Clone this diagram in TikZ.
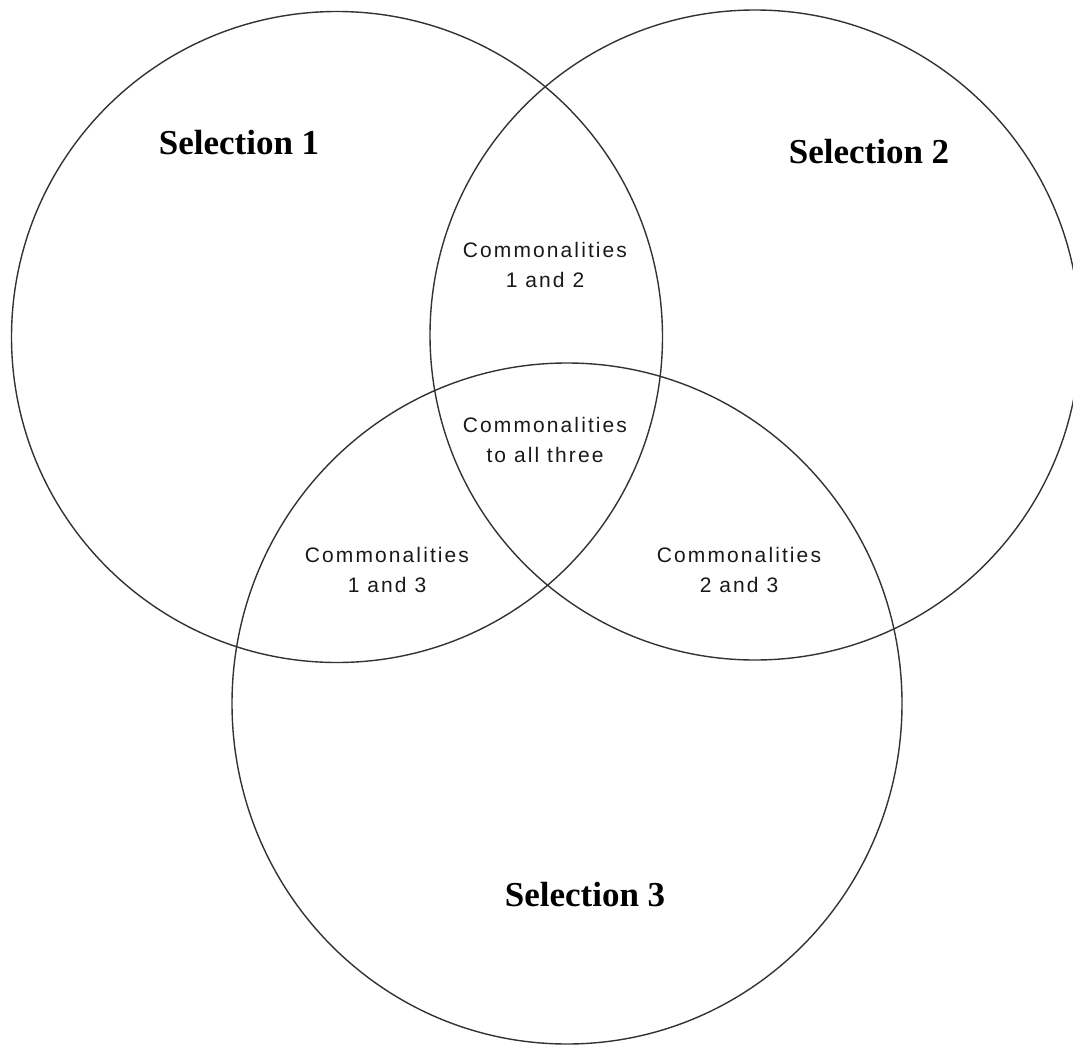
\documentclass[tikz,border=0pt]{standalone}
\usepackage{fontspec}
\setmainfont{Liberation Serif}
\newfontfamily\commonfont[LetterSpace=10]{Liberation Sans}

\tikzset{
  setline/.style={line width=1.4pt, draw=black!80},
  setname/.style={inner sep=0pt, font=\fontsize{35}{40}\selectfont\bfseries},
  common/.style={inner sep=0pt, align=center, text=black!90,
    font=\commonfont\fontsize{21}{30}\selectfont}
}

\begin{document}
\begin{tikzpicture}[x=1pt, y=-1pt]
			\useasboundingbox (0,0) rectangle (1073,1046);
			\clip (0,0) rectangle (1073,1046);
			% the three selections
			\draw[setline] (337,337) circle (325.5);
			\draw[setline] (755,335) circle (325);
			\draw[setline] (567,703.5) ellipse [x radius=335, y radius=340.5];
			\node[setname](s1) at (239,143){Selection 1};
			\node[setname](s2) at (869,152){Selection 2};
			\node[setname](s3) at (585,895){Selection 3};
			% overlaps
			\node[common](c12) at (545,265){Commonalities\\1 and 2};
			\node[common](c123) at (545,440){Commonalities\\to all three};
			\node[common](c13) at (387,570){Commonalities\\1 and 3};
			\node[common](c23) at (739,570){Commonalities\\2 and 3};
			\end{tikzpicture}
\end{document}
